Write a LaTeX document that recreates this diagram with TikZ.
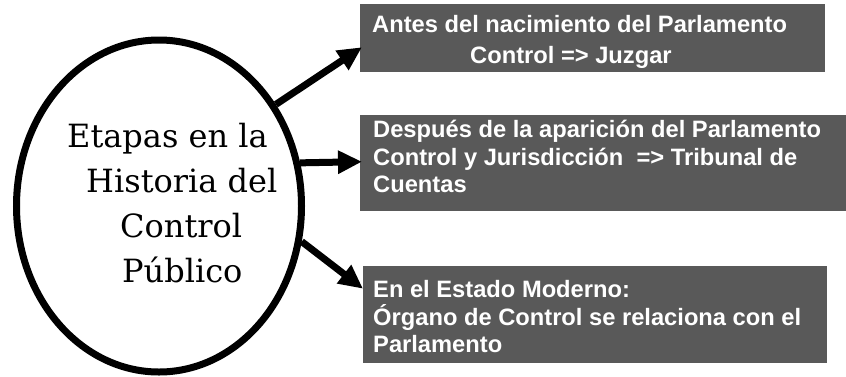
\documentclass[tikz,border=0pt]{standalone}
\usepackage{fontspec}
\newfontfamily\boxfont{Liberation Sans}
\newfontfamily\ellfont{DejaVu Serif}
\usetikzlibrary{shapes.geometric,arrows.meta,calc}
\definecolor{boxgray}{RGB}{89,89,89}
\tikzset{
  stagebox/.style={rectangle, fill=boxgray, draw=none, inner sep=0pt, anchor=north west},
  boxtext/.style={anchor=base west, inner sep=0pt, text=white, font=\boxfont\bfseries\fontsize{23.7}{27.6}\selectfont},
  elltext/.style={anchor=base west, inner sep=0pt, text=black, font=\ellfont\fontsize{32}{40}\selectfont},
  bigarrow/.style={line width=7pt, -{Triangle[length=24pt,width=22pt]}}
}
\begin{document}
\begin{tikzpicture}[x=1pt,y=-1pt]
\useasboundingbox (0,0) rectangle (846,376);
% central ellipse
\node[ellipse, draw, line width=7pt, minimum width=285pt, minimum height=332pt, inner sep=0pt] (ell) at (159,206) {};
\node[elltext] (e1) at (67,147) {Etapas en la};
\node[elltext] (e2) at (86,192) {Historia del};
\node[elltext] (e3) at (120,237) {Control};
\node[elltext] (e4) at (122,282) {Público};
% boxes
\node[stagebox, minimum width=465pt, minimum height=68pt] (b1) at (360,4) {};
\node[stagebox, minimum width=486pt, minimum height=96pt] (b2) at (360,115) {};
\node[stagebox, minimum width=464pt, minimum height=97pt] (b3) at (363,266) {};
% box texts
\node[boxtext] (t11) at (372,32) {Antes del nacimiento del Parlamento};
\node[boxtext] (t12) at (470,63) {Control => Juzgar};
\node[boxtext] (t21) at (373,137) {Después de la aparición del Parlamento};
\node[boxtext] (t22) at (373,165) {Control y Jurisdicción\ \ => Tribunal de};
\node[boxtext] (t23) at (373,192) {Cuentas};
\node[boxtext] (t31) at (373,297) {En el Estado Moderno:};
\node[boxtext] (t32) at (373,325) {Órgano de Control se relaciona con el};
\node[boxtext] (t33) at (373,352) {Parlamento};
% arrows
\draw[bigarrow] (ell.41) -- ([xshift=2pt,yshift=-9pt]b1.west);
\draw[bigarrow] (ell.17) -- ([xshift=2pt,yshift=1.5pt]b2.west);
\draw[bigarrow] (ell.-14) -- ([xshift=0pt,yshift=26pt]b3.west);
\end{tikzpicture}
\end{document}
